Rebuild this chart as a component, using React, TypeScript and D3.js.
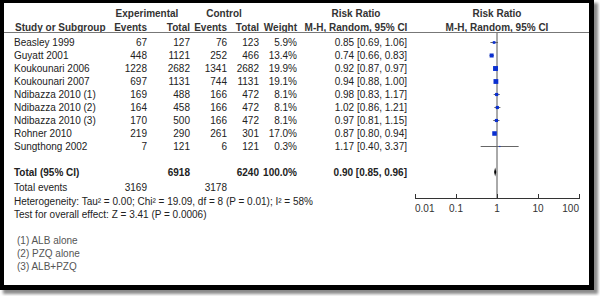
import React from "react";
import * as d3 from "d3";

const studies = [
  "Beasley 1999",
  "Guyatt 2001",
  "Koukounari 2006",
  "Koukounari 2007",
  "Ndibazza 2010 (1)",
  "Ndibazza 2010 (2)",
  "Ndibazza 2010 (3)",
  "Rohner 2010",
  "Sungthong 2002",
];
const expEvents = [67, 448, 1228, 697, 169, 164, 170, 219, 7];
const expTotal = [127, 1121, 2682, 1131, 488, 458, 500, 290, 121];
const ctrlEvents = [76, 252, 1341, 744, 166, 166, 166, 261, 6];
const ctrlTotal = [123, 466, 2682, 1131, 472, 472, 472, 301, 121];
const weights = [5.9, 13.4, 19.9, 19.1, 8.1, 8.1, 8.1, 17.0, 0.3];
const rr = [0.85, 0.74, 0.92, 0.94, 0.98, 1.02, 0.97, 0.87, 1.17];
const rrLo = [0.69, 0.66, 0.87, 0.88, 0.83, 0.86, 0.81, 0.8, 0.4];
const rrHi = [1.06, 0.83, 0.97, 1.0, 1.17, 1.21, 1.15, 0.94, 3.37];

const totalExp = 6918;
const totalCtrl = 6240;
const totalWeight = "100.0%";
const pooled = { rr: 0.9, lo: 0.85, hi: 0.96 };
const totalEventsExp = 3169;
const totalEventsCtrl = 3178;
const heterogeneity = "Heterogeneity: Tau\u00B2 = 0.00; Chi\u00B2 = 19.09, df = 8 (P = 0.01); I\u00B2 = 58%";
const overallTest = "Test for overall effect: Z = 3.41 (P = 0.0006)";
const footnotes = ["(1) ALB alone", "(2) PZQ alone", "(3) ALB+PZQ"];
const axisTicks = [0.01, 0.1, 1, 10, 100];
const axisTickLabels = ["0.01", "0.1", "1", "10", "100"];

const FONT = "'Liberation Sans', Arial, sans-serif";
const TXT = "#222";
const BLUE = "#0a2fd0";

export default function App() {
  const W = 600;
  const H = 296;
  const x = d3.scaleLog().domain([0.01, 100]).range([415, 579]);
  const y = d3.scaleLinear().domain([0, 1]).range([42, 55]);
  const fmt = (v: number) => v.toFixed(2);

  const colStudy = 14;
  const colExpEv = 147;
  const colExpTot = 190;
  const colCtrlEv = 227;
  const colCtrlTot = 259;
  const colWeight = 297;
  const colRR = 407;
  const rrCenter = 356;
  const plotCenter = 497;

  const yTotal = 172;
  const yTotEv = 187;
  const yHet = 201;
  const yTest = 214;
  const yFoot = [240, 253, 266];
  const axisY = 198;

  const t = (
    s: string | number,
    xx: number,
    yy: number,
    anchor: "start" | "middle" | "end" = "start",
    bold = false,
    fill = TXT
  ) => (
    <text
      x={xx}
      y={yy + 3.5}
      textAnchor={anchor}
      fontWeight={bold ? "bold" : "normal"}
      fill={fill}
      fontSize={10}
      fontFamily={FONT}
    >
      {s}
    </text>
  );

  const dPath = [
    [x(pooled.lo), yTotal],
    [x(pooled.rr), yTotal - 4.5],
    [x(pooled.hi), yTotal],
    [x(pooled.rr), yTotal + 4.5],
  ];

  return (
    <svg
      width={W}
      height={H}
      style={{ position: "absolute", left: 0, top: 0, background: "#fff" }}
    >
      <defs>
        <filter id="sh" x="-5%" y="-5%" width="110%" height="110%">
          <feGaussianBlur stdDeviation="1.5" />
        </filter>
      </defs>
      <rect x={0} y={0} width={W} height={H} fill="#fff" />
      <rect x={3} y={3} width={595} height={291} fill="#8a8a8a" filter="url(#sh)" />
      <rect x={0} y={0} width={594} height={290} fill="#000" />
      <rect x={4} y={3} width={585} height={282} fill="#fff" />

      {/* header */}
      {t("Experimental", 147, 13, "middle", true, "#333")}
      {t("Control", 224, 13, "middle", true, "#333")}
      {t("Risk Ratio", rrCenter, 13, "middle", true, "#333")}
      {t("Risk Ratio", plotCenter, 13, "middle", true, "#333")}
      {t("Study or Subgroup", colStudy + 1, 27, "start", true, "#333")}
      {t("Events", colExpEv, 27, "end", true, "#333")}
      {t("Total", colExpTot, 27, "end", true, "#333")}
      {t("Events", colCtrlEv, 27, "end", true, "#333")}
      {t("Total", colCtrlTot, 27, "end", true, "#333")}
      {t("Weight", colWeight, 27, "end", true, "#333")}
      {t("M-H, Random, 95% CI", rrCenter, 27, "middle", true, "#333")}
      {t("M-H, Random, 95% CI", plotCenter, 27, "middle", true, "#333")}
      <line x1={4} x2={589} y1={32.5} y2={32.5} stroke="#777" strokeWidth={1} />

      {/* reference line */}
      <line x1={x(1)} x2={x(1)} y1={33} y2={axisY} stroke="#555" strokeWidth={1} />

      {/* study rows */}
      {studies.map((s, i) => {
        const yy = y(i);
        const side = Math.max(1.2, Math.sqrt(weights[i]) * 1.1);
        return (
          <g key={s}>
            {t(s, colStudy, yy)}
            {t(expEvents[i], colExpEv, yy, "end")}
            {t(expTotal[i], colExpTot, yy, "end")}
            {t(ctrlEvents[i], colCtrlEv, yy, "end")}
            {t(ctrlTotal[i], colCtrlTot, yy, "end")}
            {t(weights[i].toFixed(1) + "%", colWeight, yy, "end")}
            {t(`${fmt(rr[i])} [${fmt(rrLo[i])}, ${fmt(rrHi[i])}]`, colRR, yy, "end")}
            <line
              x1={x(rrLo[i])}
              x2={x(rrHi[i])}
              y1={yy + 0.5}
              y2={yy + 0.5}
              stroke="#666"
              strokeWidth={1}
            />
            <rect
              x={x(rr[i]) - side / 2}
              y={yy + 0.5 - side / 2}
              width={side}
              height={side}
              fill={BLUE}
            />
          </g>
        );
      })}

      {/* totals */}
      {t("Total (95% CI)", colStudy, yTotal, "start", true)}
      {t(totalExp, colExpTot, yTotal, "end", true)}
      {t(totalCtrl, colCtrlTot, yTotal, "end", true)}
      {t(totalWeight, colWeight, yTotal, "end", true)}
      {t(`${fmt(pooled.rr)} [${fmt(pooled.lo)}, ${fmt(pooled.hi)}]`, colRR, yTotal, "end", true)}
      <polygon points={dPath.map((p) => p.join(",")).join(" ")} fill="#000" />

      {t("Total events", colStudy, yTotEv)}
      {t(totalEventsExp, colExpEv, yTotEv, "end")}
      {t(totalEventsCtrl, colCtrlEv, yTotEv, "end")}
      {t(heterogeneity, colStudy, yHet)}
      {t(overallTest, colStudy, yTest)}
      {footnotes.map((f, i) => (
        <g key={f}>{t(f, colStudy + 3, yFoot[i], "start", false, "#555")}</g>
      ))}

      {/* axis */}
      <line x1={x(0.01)} x2={x(100)} y1={axisY + 0.5} y2={axisY + 0.5} stroke="#333" strokeWidth={1} />
      {axisTicks.map((v, i) => (
        <g key={v}>
          <line
            x1={Math.round(x(v)) + 0.5}
            x2={Math.round(x(v)) + 0.5}
            y1={axisY - 4}
            y2={axisY + 1}
            stroke="#333"
            strokeWidth={1}
          />
          {t(
            axisTickLabels[i],
            x(v),
            208,
            i === 0 ? "start" : i === axisTicks.length - 1 ? "end" : "middle",
            false,
            "#333"
          )}
        </g>
      ))}
    </svg>
  );
}
